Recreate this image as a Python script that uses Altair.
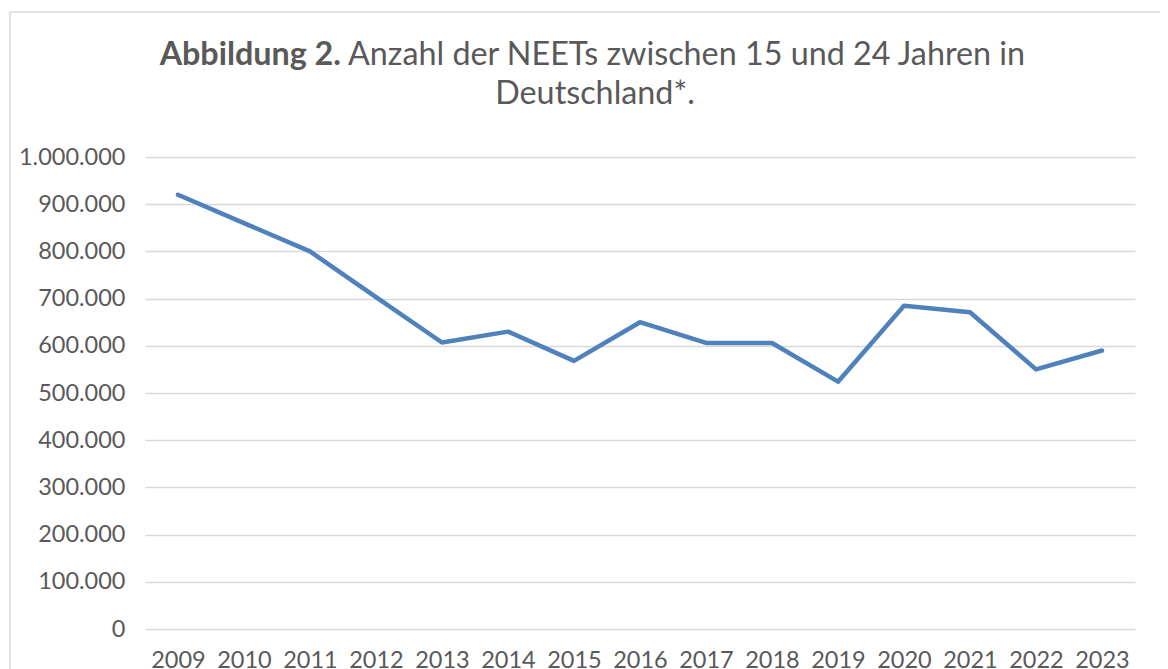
import altair as alt
import pandas as pd

years = ["2009", "2010", "2011", "2012", "2013", "2014", "2015", "2016",
         "2017", "2018", "2019", "2020", "2021", "2022", "2023"]
neets = [920000, 860000, 800000, 703000, 607000, 630000, 568000, 650000,
         606000, 606000, 524000, 685000, 671000, 550000, 590000]
y_ticks = [0, 100000, 200000, 300000, 400000, 500000, 600000, 700000,
           800000, 900000, 1000000]

title_bold = "Abbildung 2."
title_rest = "Anzahl der NEETs zwischen 15 und 24 Jahren in"
title_line2 = "Deutschland*."

df = pd.DataFrame({"Jahr": years, "Anzahl": neets})
one = pd.DataFrame({"k": [0]})

TEXT = "#595959"
GRID = "#d9d9d9"
FONT = "Lato"
TFS = 32.3

line = alt.Chart(df).mark_line(
    color="#4F81BD", strokeWidth=4.5, strokeCap="round", strokeJoin="round"
).encode(
    x=alt.X("Jahr:O", title=None, sort=years,
            scale=alt.Scale(type="point", padding=0.5),
            axis=alt.Axis(labelAngle=0, ticks=False, domain=False,
                          labelPadding=19, labelFontSize=23.5,
                          labelColor=TEXT, labelFont=FONT)),
    y=alt.Y("Anzahl:Q", title=None,
            scale=alt.Scale(domain=[0, 1000000], nice=False),
            axis=alt.Axis(values=y_ticks,
                          labelExpr="replace(format(datum.value, ','), /,/g, '.')",
                          ticks=False, domain=False,
                          grid=True, gridColor=GRID, gridWidth=1.3,
                          labelPadding=20, labelFontSize=23.5,
                          labelColor=TEXT, labelFont=FONT)),
)

t_bold = alt.Chart(one).mark_text(
    text=title_bold, font=FONT, fontSize=TFS, fontWeight="bold", color=TEXT,
    align="right", baseline="alphabetic"
).encode(x=alt.value(196), y=alt.value(-92))

t_rest = alt.Chart(one).mark_text(
    text=title_rest, font=FONT, fontSize=TFS, color=TEXT,
    align="left", baseline="alphabetic"
).encode(x=alt.value(203), y=alt.value(-92))

t_line2 = alt.Chart(one).mark_text(
    text=title_line2, font=FONT, fontSize=TFS, color=TEXT,
    align="center", baseline="alphabetic"
).encode(x=alt.value(450), y=alt.value(-53))

border_left = alt.Chart(one).mark_rule(color=GRID, strokeWidth=1.5).encode(
    x=alt.value(-135), y=alt.value(-145), y2=alt.value(700))
border_top = alt.Chart(one).mark_rule(color=GRID, strokeWidth=1.5).encode(
    x=alt.value(-135), x2=alt.value(1100), y=alt.value(-145))

chart = alt.layer(border_left, border_top, line, t_bold, t_rest, t_line2).properties(
    width=990, height=472,
    autosize=alt.AutoSizeParams(type="none"),
    padding={"left": 137, "top": 149, "right": 25, "bottom": 40},
    background="white",
).configure_view(stroke=None)

chart.save("out.html", embed_options={"renderer": "svg", "actions": False})
